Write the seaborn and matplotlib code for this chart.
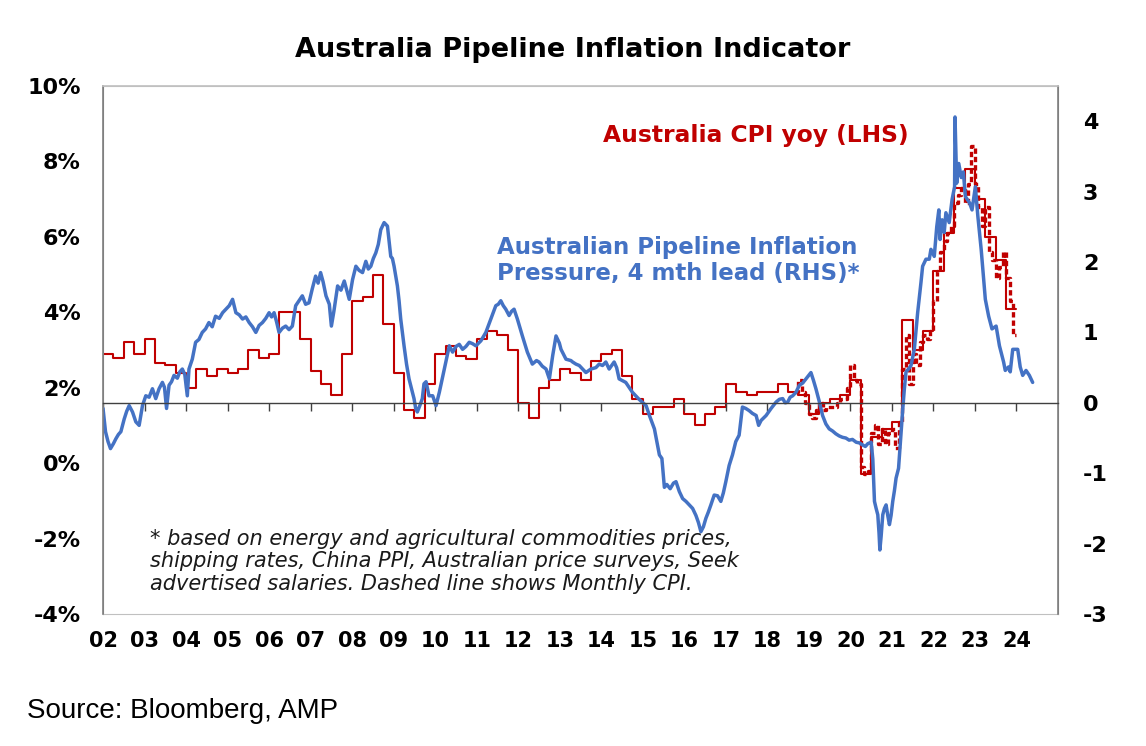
import numpy as np
import pandas as pd
import matplotlib.pyplot as plt
import seaborn as sns

sns.set_style("white")
plt.rcParams['font.family'] = ['DejaVu Sans']
plt.rcParams['text.color'] = 'black'
plt.rcParams['xtick.color'] = 'black'
plt.rcParams['ytick.color'] = 'black'

BLUE = '#4472C4'
RED = '#C00000'
GREY = '#404040'

# Australia CPI yoy %, quarterly 2002Q1 - 2023Q4 (LHS)
cpi_q = [2.9, 2.8, 3.2, 2.9,
         3.3, 2.65, 2.6, 2.4,
         2.0, 2.5, 2.3, 2.5,
         2.4, 2.5, 3.0, 2.8,
         2.9, 4.0, 4.0, 3.3,
         2.45, 2.1, 1.8, 2.9,
         4.3, 4.4, 5.0, 3.7,
         2.4, 1.4, 1.2, 2.1,
         2.9, 3.1, 2.85, 2.75,
         3.3, 3.5, 3.4, 3.0,
         1.6, 1.2, 2.0, 2.2,
         2.5, 2.4, 2.2, 2.7,
         2.9, 3.0, 2.3, 1.7,
         1.3, 1.5, 1.5, 1.7,
         1.3, 1.0, 1.3, 1.5,
         2.1, 1.9, 1.8, 1.9,
         1.9, 2.1, 1.9, 1.8,
         1.3, 1.6, 1.7, 1.8,
         2.2, -0.3, 0.7, 0.9,
         1.1, 3.8, 3.0, 3.5,
         5.1, 6.1, 7.3, 7.8,
         7.0, 6.0, 5.4, 4.1]

# monthly CPI indicator yoy %, Sep 2018 - Dec 2023 (LHS, dashed)
cpi_m = [1.9, 2.2, 1.9, 1.6,
         1.3, 1.2, 1.4, 1.6, 1.4, 1.5, 1.5, 1.5, 1.6, 1.7, 1.7, 2.0,
         2.6, 2.2, 2.1, -0.1, -0.3, -0.2, 0.8, 1.0, 0.5, 0.9, 0.5, 0.8,
         0.9, 0.4, 1.1, 2.5, 3.4, 2.1, 2.9, 2.6, 3.2, 3.4, 3.3, 3.5,
         4.3, 5.1, 5.6, 5.9, 6.1, 6.3, 6.9, 7.1, 7.3, 6.9, 7.4, 8.4,
         7.4, 6.8, 6.3, 6.8, 5.6, 5.4, 4.9, 5.2, 5.6, 4.9, 4.3, 3.4]

# pipeline inflation pressure, 4 mth lead (RHS): decimal year / value
pipe_t = [2002.00, 2002.06, 2002.12, 2002.18, 2002.25, 2002.31, 2002.37, 2002.43, 2002.51, 2002.57,
          2002.63, 2002.71, 2002.79, 2002.87, 2002.95, 2003.03, 2003.11, 2003.19, 2003.27, 2003.35,
          2003.43, 2003.48, 2003.53, 2003.59, 2003.65, 2003.71, 2003.79, 2003.85, 2003.91, 2003.97,
          2004.03, 2004.07, 2004.15, 2004.23, 2004.31, 2004.39, 2004.47, 2004.55, 2004.63, 2004.71,
          2004.80, 2004.88, 2004.96, 2005.04, 2005.12, 2005.20, 2005.28, 2005.36, 2005.44, 2005.52,
          2005.60, 2005.68, 2005.76, 2005.84, 2005.92, 2006.00, 2006.06, 2006.12, 2006.18, 2006.24,
          2006.32, 2006.40, 2006.48, 2006.56, 2006.64, 2006.72, 2006.80, 2006.88, 2006.96, 2007.04,
          2007.12, 2007.18, 2007.24, 2007.30, 2007.37, 2007.45, 2007.50, 2007.56, 2007.65, 2007.73,
          2007.81, 2007.87, 2007.93, 2008.01, 2008.09, 2008.17, 2008.25, 2008.33, 2008.39, 2008.45,
          2008.51, 2008.57, 2008.63, 2008.69, 2008.77, 2008.85, 2008.89, 2008.93, 2008.97, 2009.01,
          2009.05, 2009.09, 2009.13, 2009.17, 2009.21, 2009.25, 2009.31, 2009.37, 2009.43, 2009.49,
          2009.53, 2009.57, 2009.63, 2009.69, 2009.73, 2009.78, 2009.85, 2009.94, 2010.02, 2010.10,
          2010.22, 2010.30, 2010.34, 2010.42, 2010.50, 2010.58, 2010.66, 2010.74, 2010.82, 2010.90,
          2010.98, 2011.10, 2011.22, 2011.34, 2011.46, 2011.52, 2011.58, 2011.64, 2011.70, 2011.78,
          2011.84, 2011.90, 2011.98, 2012.10, 2012.22, 2012.34, 2012.44, 2012.50, 2012.58, 2012.67,
          2012.75, 2012.83, 2012.91, 2012.99, 2013.03, 2013.15, 2013.27, 2013.31, 2013.39, 2013.47,
          2013.55, 2013.63, 2013.75, 2013.87, 2013.95, 2014.03, 2014.11, 2014.19, 2014.31, 2014.37,
          2014.43, 2014.59, 2014.67, 2014.75, 2014.91, 2015.08, 2015.16, 2015.28, 2015.40, 2015.46,
          2015.52, 2015.58, 2015.66, 2015.74, 2015.80, 2015.88, 2015.96, 2016.04, 2016.12, 2016.20,
          2016.28, 2016.34, 2016.40, 2016.46, 2016.52, 2016.58, 2016.64, 2016.72, 2016.80, 2016.88,
          2016.94, 2017.00, 2017.08, 2017.16, 2017.24, 2017.32, 2017.40, 2017.48, 2017.56, 2017.64,
          2017.73, 2017.79, 2017.85, 2017.97, 2018.09, 2018.21, 2018.29, 2018.37, 2018.43, 2018.49,
          2018.55, 2018.61, 2018.69, 2018.77, 2018.85, 2018.93, 2019.05, 2019.11, 2019.17, 2019.25,
          2019.33, 2019.41, 2019.49, 2019.57, 2019.65, 2019.73, 2019.81, 2019.89, 2019.97, 2020.05,
          2020.14, 2020.22, 2020.30, 2020.36, 2020.42, 2020.50, 2020.54, 2020.58, 2020.62, 2020.66,
          2020.69, 2020.71, 2020.74, 2020.78, 2020.82, 2020.86, 2020.90, 2020.94, 2020.98, 2021.02,
          2021.06, 2021.10, 2021.16, 2021.20, 2021.26, 2021.30, 2021.34, 2021.40, 2021.46, 2021.54,
          2021.62, 2021.70, 2021.74, 2021.82, 2021.90, 2021.94, 2022.02, 2022.08, 2022.13, 2022.16,
          2022.21, 2022.26, 2022.30, 2022.38, 2022.45, 2022.51, 2022.52, 2022.56, 2022.61, 2022.67,
          2022.72, 2022.77, 2022.87, 2022.93, 2023.01, 2023.07, 2023.15, 2023.25, 2023.33, 2023.41,
          2023.51, 2023.59, 2023.69, 2023.73, 2023.81, 2023.85, 2023.91, 2024.03, 2024.09, 2024.15,
          2024.23, 2024.31, 2024.39]
pipe_v = [-0.08, -0.41, -0.55, -0.65, -0.58, -0.51, -0.45, -0.41, -0.23, -0.12,
          -0.04, -0.13, -0.27, -0.32, -0.04, 0.10, 0.08, 0.20, 0.06, 0.20,
          0.29, 0.22, -0.08, 0.25, 0.30, 0.39, 0.35, 0.44, 0.48, 0.40,
          0.10, 0.48, 0.62, 0.86, 0.90, 1.00, 1.05, 1.14, 1.08, 1.23,
          1.20, 1.28, 1.33, 1.38, 1.47, 1.28, 1.25, 1.19, 1.22, 1.14,
          1.08, 1.00, 1.10, 1.14, 1.20, 1.28, 1.22, 1.28, 1.15, 1.00,
          1.06, 1.09, 1.04, 1.09, 1.38, 1.45, 1.52, 1.40, 1.42, 1.62,
          1.80, 1.70, 1.85, 1.72, 1.52, 1.40, 1.09, 1.30, 1.66, 1.60,
          1.73, 1.60, 1.47, 1.75, 1.94, 1.88, 1.85, 2.01, 1.90, 1.94,
          2.05, 2.13, 2.25, 2.46, 2.56, 2.51, 2.30, 2.08, 2.05, 1.94,
          1.80, 1.66, 1.45, 1.19, 1.00, 0.81, 0.55, 0.34, 0.20, 0.06,
          -0.08, -0.13, -0.04, 0.06, 0.27, 0.30, 0.10, 0.10, -0.04, 0.15,
          0.48, 0.70, 0.81, 0.72, 0.80, 0.83, 0.76, 0.80, 0.86, 0.84,
          0.81, 0.88, 1.00, 1.19, 1.38, 1.40, 1.45, 1.38, 1.33, 1.24,
          1.30, 1.33, 1.19, 0.95, 0.72, 0.55, 0.60, 0.58, 0.52, 0.48,
          0.34, 0.67, 0.95, 0.85, 0.76, 0.62, 0.60, 0.58, 0.55, 0.53,
          0.48, 0.43, 0.48, 0.50, 0.55, 0.53, 0.58, 0.48, 0.58, 0.50,
          0.34, 0.29, 0.22, 0.15, 0.05, -0.04, -0.18, -0.37, -0.74, -0.79,
          -1.20, -1.16, -1.22, -1.14, -1.12, -1.26, -1.36, -1.40, -1.45, -1.50,
          -1.60, -1.70, -1.83, -1.76, -1.64, -1.55, -1.45, -1.31, -1.32, -1.40,
          -1.28, -1.12, -0.89, -0.74, -0.55, -0.46, -0.06, -0.08, -0.11, -0.15,
          -0.18, -0.32, -0.25, -0.18, -0.08, 0.01, 0.05, 0.06, 0.00, 0.01,
          0.08, 0.10, 0.15, 0.25, 0.28, 0.34, 0.43, 0.32, 0.20, 0.02,
          -0.18, -0.30, -0.37, -0.40, -0.44, -0.47, -0.49, -0.50, -0.53, -0.52,
          -0.56, -0.57, -0.60, -0.62, -0.58, -0.56, -0.80, -1.40, -1.50, -1.59,
          -1.85, -2.09, -1.90, -1.59, -1.50, -1.45, -1.60, -1.73, -1.60, -1.40,
          -1.25, -1.07, -0.93, -0.60, -0.10, 0.20, 0.44, 0.48, 0.53, 0.76,
          1.28, 1.71, 1.94, 2.04, 2.04, 2.18, 2.08, 2.50, 2.74, 2.32,
          2.60, 2.42, 2.70, 2.56, 2.89, 3.07, 4.06, 3.12, 3.40, 3.20,
          3.28, 2.93, 2.84, 2.74, 3.07, 2.65, 2.18, 1.47, 1.23, 1.05,
          1.09, 0.81, 0.58, 0.46, 0.51, 0.44, 0.76, 0.76, 0.51, 0.39,
          0.46, 0.39, 0.29]

years = list(range(2002, 2025))
left_ticks = [-4, -2, 0, 2, 4, 6, 8, 10]
right_ticks = [-3, -2, -1, 0, 1, 2, 3, 4]

# each quarter / month drawn as a flat step across its own period
q_idx = pd.period_range('2002Q1', periods=len(cpi_q), freq='Q')
q_x = list(q_idx.year + (q_idx.quarter - 1) / 4)
df_q = pd.DataFrame({'t': q_x + [q_x[-1] + 0.25], 'cpi': cpi_q + cpi_q[-1:]})

m_idx = pd.period_range('2018-09', periods=len(cpi_m), freq='M')
m_x = list(m_idx.year + (m_idx.month - 1) / 12)
df_m = pd.DataFrame({'t': m_x + [m_x[-1] + 1 / 12], 'cpi': cpi_m + cpi_m[-1:]})

df_p = pd.DataFrame({'t': pipe_t, 'pipe': pipe_v})

fig = plt.figure(figsize=(11.46, 7.46), dpi=100)
ax = fig.add_axes([0.0899, 0.1769, 0.8333, 0.7078])
ax2 = ax.twinx()

sns.lineplot(data=df_q, x='t', y='cpi', ax=ax, color=RED, lw=1.5,
             drawstyle='steps-post', estimator=None)
sns.lineplot(data=df_m, x='t', y='cpi', ax=ax, color=RED, lw=2.4,
             drawstyle='steps-post', estimator=None, linestyle=(0, (1.6, 0.9)))
sns.lineplot(data=df_p, x='t', y='pipe', ax=ax2, color=BLUE, lw=2.5,
             estimator=None)

ax.set_xlim(2002, 2025)
ax.set_ylim(-4, 10)
ax2.set_ylim(-3, 4.5)

ax.set_xticks(years)
ax.set_xticklabels([f"{y % 100:02d}" for y in years])
ax.set_yticks(left_ticks)
ax.set_yticklabels([f"{v}%" for v in left_ticks])
ax2.set_yticks(right_ticks)
ax2.set_yticklabels([str(v) for v in right_ticks])
for a in (ax, ax2):
    a.set_xlabel('')
    a.set_ylabel('')

ax.tick_params(axis='x', length=0, pad=12, labelsize=15)
ax.tick_params(axis='y', length=0, pad=16, labelsize=16)
ax2.tick_params(axis='y', length=0, pad=18, labelsize=16)
for lab in ax.get_xticklabels() + ax.get_yticklabels() + ax2.get_yticklabels():
    lab.set_fontweight('bold')

# x axis of the RHS crosses at zero, with year ticks hanging below it
ax2.xaxis.set_visible(True)
ax2.spines['bottom'].set_position(('data', 0))
ax2.tick_params(axis='x', direction='out', length=6, width=1, color=GREY,
                labelbottom=False, top=False, bottom=True)

for a in (ax, ax2):
    a.spines['left'].set_color('#808080')
    a.spines['right'].set_color('#808080')
    a.spines['top'].set_color('#c0c0c0')
ax.spines['bottom'].set_color('#c0c0c0')
for s in ax2.spines.values():
    s.set_linewidth(1.2)
ax2.spines['bottom'].set_color(GREY)
ax2.spines['bottom'].set_linewidth(1.0)

ax.text(0.5236, 0.907, 'Australia CPI yoy (LHS)', transform=ax.transAxes,
        color=RED, fontsize=16.8, fontweight='bold', ha='left', va='center')
ax.text(0.4126, 0.670, 'Australian Pipeline Inflation\nPressure, 4 mth lead (RHS)*',
        transform=ax.transAxes, color=BLUE, fontsize=16.5, fontweight='bold',
        ha='left', va='center', linespacing=1.15)
ax.text(0.0492, 0.100,
        '* based on energy and agricultural commodities prices,\n'
        'shipping rates, China PPI, Australian price surveys, Seek\n'
        'advertised salaries. Dashed line shows Monthly CPI.',
        transform=ax.transAxes, fontsize=15, style='italic', color='#1a1a1a',
        ha='left', va='center', linespacing=1.16)

fig.text(0.5, 0.933, 'Australia Pipeline Inflation Indicator', fontsize=19.5,
         fontweight='bold', ha='center', va='center')
fig.text(0.0236, 0.047, 'Source: Bloomberg, AMP', fontsize=20,
         family='Liberation Sans', ha='left', va='center')

fig.savefig('out.png', dpi=100)
